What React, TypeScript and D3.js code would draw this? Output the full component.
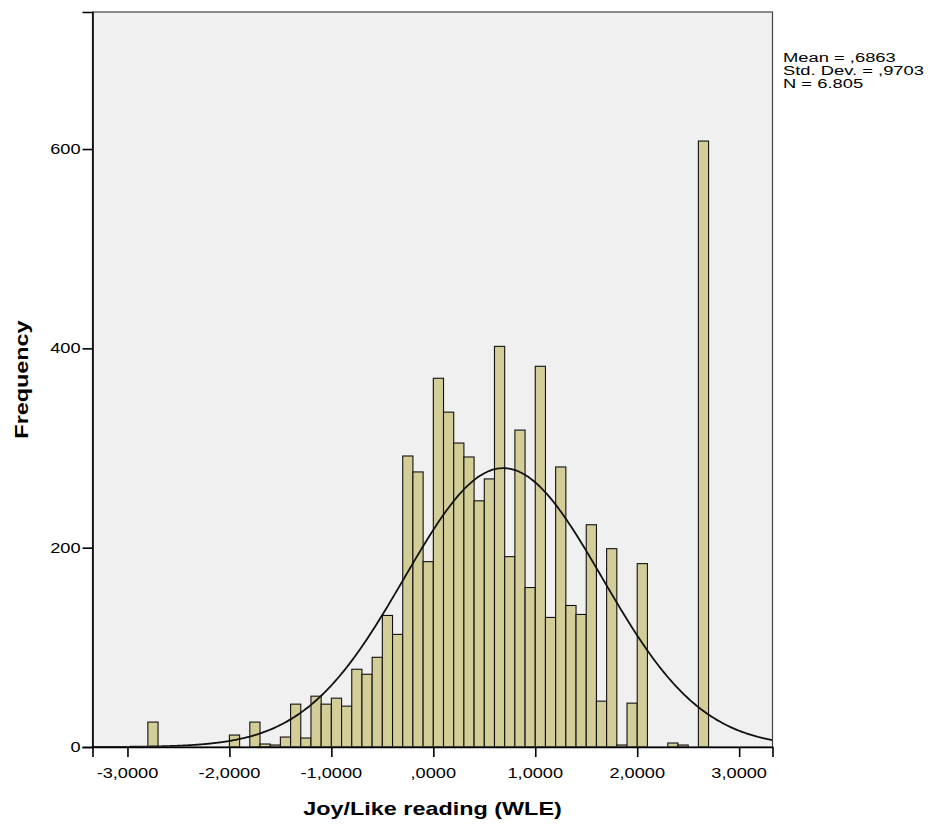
import { useEffect, useRef } from 'react';
import * as d3 from 'd3';

// histogram bins (lower edge of each 0.1 wide bin) and their counts
const binLower = [
	-2.8, -2.7, -2.6, -2.5, -2.4, -2.3, -2.2, -2.1, -2.0, -1.9, -1.8, -1.7, -1.6, -1.5, -1.4, -1.3, -1.2, -1.1, -1.0,
	-0.9, -0.8, -0.7, -0.6, -0.5, -0.4, -0.3, -0.2, -0.1, 0.0, 0.1, 0.2, 0.3, 0.4, 0.5, 0.6, 0.7, 0.8, 0.9, 1.0, 1.1,
	1.2, 1.3, 1.4, 1.5, 1.6, 1.7, 1.8, 1.9, 2.0, 2.1, 2.2, 2.3, 2.4, 2.5, 2.6,
];
const counts = [
	25, 0, 0, 0, 0, 0, 0, 0, 12, 0, 25, 3, 2, 10, 43, 9, 51, 43, 49,
	41, 78, 73, 90, 132, 113, 292, 276, 186, 370, 336, 305, 291, 247, 269, 402, 191, 318, 160, 382, 130,
	281, 142, 133, 223, 46, 199, 2, 44, 184, 0, 0, 4, 2, 0, 608,
];
const BIN_WIDTH = 0.1;

const MEAN = 0.6863;
const SD = 0.9703;
const N = 6805;

const xTicks = [-3, -2, -1, 0, 1, 2, 3];
const xTickLabels = ['-3,0000', '-2,0000', '-1,0000', ',0000', '1,0000', '2,0000', '3,0000'];
const yTicks = [0, 200, 400, 600];
const statsLines = ['Mean = ,6863', 'Std. Dev. = ,9703', 'N = 6.805'];

const FONT = "'Liberation Sans', Arial, sans-serif";
const SX = 1.3; // labels in the original are drawn wide

export default function App() {
	const svgRef = useRef<SVGSVGElement>(null);

	useEffect(() => {
		if (!svgRef.current) return;
		const W = 928;
		const H = 828;
		const margin = { top: 12, right: 155.5, bottom: 81, left: 92.5 };
		const pw = W - margin.left - margin.right;
		const ph = H - margin.top - margin.bottom;

		const root = d3.select(svgRef.current);
		root.selectAll('*').remove();
		root.append('rect').attr('width', W).attr('height', H).attr('fill', '#fff');

		const svg = root.append('g').attr('transform', `translate(${margin.left},${margin.top})`);

		const x = d3.scaleLinear().domain([-3.343, 3.327]).range([0, pw]);
		const y = d3.scaleLinear().domain([0, 737.5]).range([ph, 0]);

		// plot background
		svg.append('rect').attr('width', pw).attr('height', ph).attr('fill', '#f0f0f0');

		// bars
		const bins = binLower.map((lo, i) => ({ lo, count: counts[i] })).filter((d) => d.count > 0);
		svg
			.selectAll('.bar')
			.data(bins)
			.enter()
			.append('rect')
			.attr('class', 'bar')
			.attr('x', (d) => x(d.lo))
			.attr('y', (d) => y(d.count))
			.attr('width', (d) => x(d.lo + BIN_WIDTH) - x(d.lo))
			.attr('height', (d) => ph - y(d.count))
			.attr('fill', '#d3ce97')
			.attr('stroke', '#111')
			.attr('stroke-width', 1.1);

		// normal curve
		const pdf = (v: number) =>
			((N * BIN_WIDTH) / (SD * Math.sqrt(2 * Math.PI))) * Math.exp(-0.5 * ((v - MEAN) / SD) ** 2);
		const xs = d3.range(0, 401).map((i) => x.domain()[0] + (i / 400) * (x.domain()[1] - x.domain()[0]));
		const line = d3
			.line<number>()
			.x((v) => x(v))
			.y((v) => y(pdf(v)))
			.curve(d3.curveBasis);
		svg
			.append('path')
			.datum(xs)
			.attr('d', line)
			.attr('fill', 'none')
			.attr('stroke', '#111')
			.attr('stroke-width', 1.8);

		// frame
		svg
			.append('rect')
			.attr('width', pw)
			.attr('height', ph)
			.attr('fill', 'none')
			.attr('stroke', '#444')
			.attr('stroke-width', 1.2);

		// axes
		const xAxis = svg
			.append('g')
			.attr('transform', `translate(0,${ph})`)
			.call(d3.axisBottom(x).tickValues(xTicks).tickSize(10).tickFormat(() => ''));
		xAxis.select('.domain').attr('stroke', '#000').attr('stroke-width', 1.6);
		xAxis.selectAll('.tick line').attr('stroke', '#000').attr('stroke-width', 1.6);

		const yAxis = svg.append('g').call(d3.axisLeft(y).tickValues(yTicks).tickSize(10).tickFormat(() => ''));
		yAxis.select('.domain').attr('stroke', '#000').attr('stroke-width', 1.6);
		yAxis.selectAll('.tick line').attr('stroke', '#000').attr('stroke-width', 1.6);

		const label = (
			g: d3.Selection<SVGGElement, unknown, null, undefined>,
			tx: number,
			ty: number,
			text: string,
			size: number,
			anchor: string,
			bold = false,
			rotate = 0,
			sx = SX
		) =>
			g
				.append('text')
				.attr('transform', `translate(${tx},${ty}) rotate(${rotate}) scale(${sx},1)`)
				.attr('text-anchor', anchor)
				.attr('font-family', FONT)
				.attr('font-size', size)
				.attr('font-weight', bold ? 'bold' : 'normal')
				.attr('fill', '#000')
				.text(text);

		xTicks.forEach((t, i) => label(svg, x(t), ph + 31, xTickLabels[i], 14, 'middle'));
		yTicks.forEach((t) => label(svg, -12, y(t) + 5, String(t), 14, 'end'));

		label(svg, pw / 2, ph + 68, 'Joy/Like reading (WLE)', 18, 'middle', true);
		label(svg, -65, ph / 2, 'Frequency', 18, 'middle', true, -90);

		statsLines.forEach((s, i) => label(root, 783, 62 + i * 13, s, 13.5, 'start', false, 0, 1.36));
	}, []);

	return (
		<div style={{ position: 'absolute', left: 0, top: 0 }}>
			<svg ref={svgRef} width={928} height={828} style={{ display: 'block' }}></svg>
		</div>
	);
}
